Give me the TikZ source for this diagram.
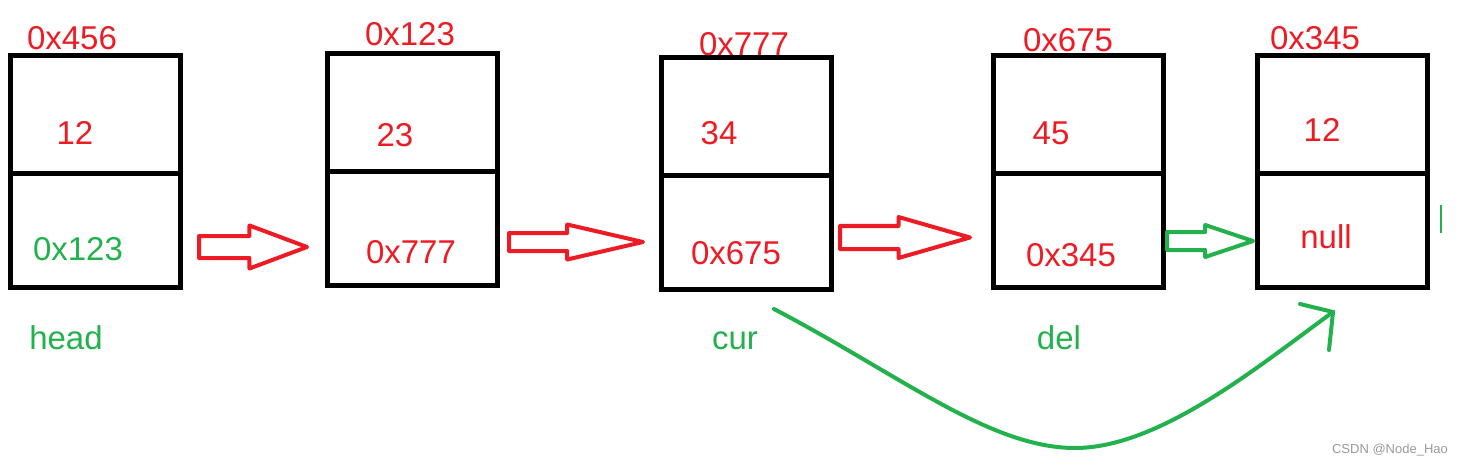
\documentclass[tikz,border=0pt]{standalone}
\usepackage{fontspec}
\setmainfont{Liberation Sans}
\usetikzlibrary{shapes.arrows, positioning}

\definecolor{paintred}{HTML}{ED1C24}
\definecolor{paintgreen}{HTML}{22B14C}

\begin{document}
\begin{tikzpicture}[
    x=0.5pt, y=-0.5pt,
    cell/.style={rectangle, draw, line width=2.5pt, minimum width=85pt, outer sep=0pt, inner sep=0pt},
    datacell/.style={cell, minimum height=59pt},
    nextcell/.style={cell, minimum height=57pt},
    val/.style={text=paintred, font=\fontsize{16.5}{19}\selectfont, inner sep=0pt},
    ptr/.style={text=paintgreen, font=\fontsize{16.5}{19}\selectfont, inner sep=0pt},
    blockarrow/.style={single arrow, draw, line width=2pt, line join=round, inner xsep=0pt, outer sep=0pt, anchor=tail},
    redarrow/.style={blockarrow, draw=paintred},
    greenarrow/.style={blockarrow, draw=paintgreen},
    jump/.style={draw=paintgreen, line width=2pt, line cap=round}
]
    \useasboundingbox (0,0) rectangle (1463,465);

    % list nodes
    \node[datacell] (d1) at (95,114.5) {};
    \node[nextcell, below=0pt of d1] (n1) {};
    \node[datacell] (d2) at (412.5,112.5) {};
    \node[nextcell, below=0pt of d2] (n2) {};
    \node[datacell] (d3) at (746.5,116.5) {};
    \node[nextcell, below=0pt of d3] (n3) {};
    \node[datacell] (d4) at (1078.5,114.5) {};
    \node[nextcell, below=0pt of d4] (n4) {};
    \node[datacell] (d5) at (1342.5,114.5) {};
    \node[nextcell, below=0pt of d5] (n5) {};

    % addresses, values and next pointers
    \node[val] (addr1) at (72,38.5) {0x456};
    \node[val] (v1) at (75,133) {12};
    \node[ptr] (p1) at (78,249) {0x123};
    \node[ptr] (head) at (66,338) {head};

    \node[val] (addr2) at (410,34) {0x123};
    \node[val] (v2) at (395,135) {23};
    \node[val] (p2) at (411,252) {0x777};

    \node[val] (addr3) at (744,44) {0x777};
    \node[val] (v3) at (719,133) {34};
    \node[val] (p3) at (736,253) {0x675};
    \node[ptr] (cur) at (735,341) {cur};

    \node[val] (addr4) at (1068,40) {0x675};
    \node[val] (v4) at (1051,133) {45};
    \node[val] (p4) at (1071,255) {0x345};
    \node[ptr] (del) at (1059,338) {del};

    \node[val] (addr5) at (1315,38) {0x345};
    \node[val] (v5) at (1322,130) {12};
    \node[val] (p5) at (1326,237) {null};

    % links
    \node[redarrow, inner ysep=4.5pt, single arrow head extend=5.25pt, single arrow tip angle=41, minimum height=54pt] (a12) at (199,247) {};
    \node[redarrow, inner ysep=3.5pt, single arrow head extend=4.25pt, single arrow tip angle=26, minimum height=67pt] (a23) at (509,242) {};
    \node[redarrow, inner ysep=4.75pt, single arrow head extend=4.5pt, single arrow tip angle=32, minimum height=65pt] (a34) at (840,237.5) {};
    \node[greenarrow, inner ysep=3.5pt, single arrow head extend=3.5pt, single arrow tip angle=37, minimum height=43pt] (a45) at (1167,241) {};

    % cur->next = del->next
    \coordinate (skip) at (774,309);
    \coordinate (tip) at (1333,312);
    \draw[jump] (skip) .. controls (900,375) and (990,448) .. (1075,448)
        .. controls (1160,448) and (1260,365) .. (tip);
    \draw[jump] (1300,304) -- (tip) -- (1329,350);

    \draw[paintgreen, line width=0.6pt] (1441,205) -- (1441,233);
    \node[text=black!40, font=\fontsize{6.5}{8}\selectfont] (wm) at (1390,450) {CSDN @Node\_Hao};
\end{tikzpicture}
\end{document}
